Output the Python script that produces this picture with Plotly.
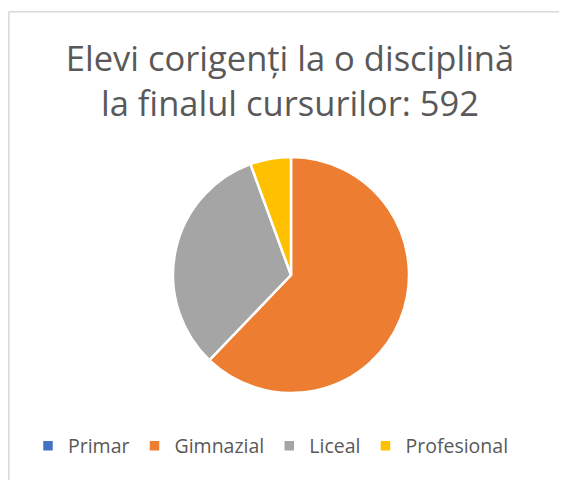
import plotly.graph_objects as go

# figure size in px; the page keeps its default 8 px body margin
W, H = 559, 472

categories = ["Primar", "Gimnazial", "Liceal", "Profesional"]
values = [0, 368, 191, 33]
colors = ["#4472C4", "#ED7D31", "#A5A5A5", "#FFC000"]
title_lines = ["Elevi corigenți la o disciplină", "la finalul cursurilor: 592"]

FONT = "Open Sans"
TXT = "#595959"
FRAME = "#D9D9D9"

def px_x(p):
    return p / W

def px_y(p):
    return 1 - p / H

fig = go.Figure(go.Pie(
    labels=categories,
    values=values,
    marker=dict(colors=colors, line=dict(color="white", width=2.5)),
    sort=False,
    direction="clockwise",
    rotation=0,
    textinfo="none",
    hoverinfo="label+value+percent",
    domain=dict(x=[px_x(165), px_x(401)], y=[px_y(385), px_y(149)]),
))

fig.update_layout(
    width=W, height=H,
    margin=dict(l=0, r=0, t=0, b=0),
    paper_bgcolor="white",
    plot_bgcolor="white",
    font=dict(family=FONT, color=TXT),
    title=dict(
        text="<br>".join(title_lines),
        x=px_x(282), xanchor="center", xref="paper",
        y=px_y(63), yanchor="top", yref="container",
        font=dict(family=FONT, size=34.5, color=TXT),
    ),
    showlegend=True,
    legend=dict(
        orientation="h",
        x=px_x(263), xanchor="center",
        y=px_y(438), yanchor="middle",
        font=dict(family=FONT, size=19.5, color=TXT),
        traceorder="normal",
        itemclick=False,
    ),
    shapes=[
        dict(type="line", xref="paper", yref="paper",
             x0=px_x(0.8), x1=px_x(0.8), y0=-0.1, y1=px_y(3.8),
             line=dict(color=FRAME, width=1.5), layer="below"),
        dict(type="line", xref="paper", yref="paper",
             x0=px_x(0.8), x1=1.1, y0=px_y(3.8), y1=px_y(3.8),
             line=dict(color=FRAME, width=1.5), layer="below"),
    ],
)

fig.write_html(
    "out.html",
    post_script="document.documentElement.style.overflow='hidden';"
                "document.body.style.overflow='hidden';",
)
